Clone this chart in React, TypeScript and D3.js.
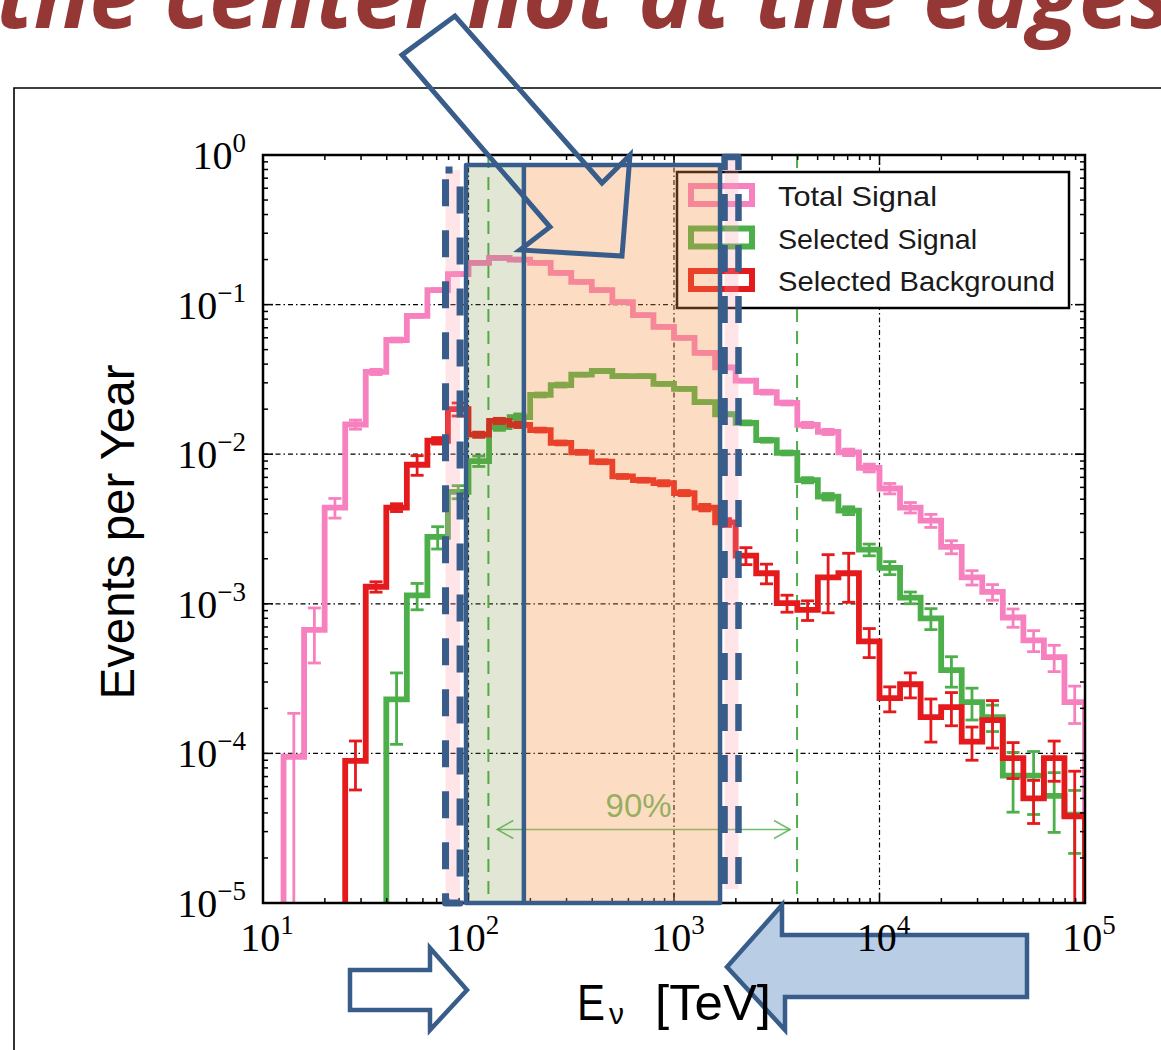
import React from 'react';
import * as d3 from 'd3';

// Histogram binning: 0.1 decade bins from 10 TeV to 100 PeV
const binEdgeExponents = d3.range(41).map((i) => 1 + i / 10);
const binEdges = binEdgeExponents.map((e) => Math.pow(10, e));

// Events per year in each energy bin
const totalSignal = [
  0, 9.5e-5, 6.7e-4, 4.4e-3, 0.0158, 0.0355, 0.058, 0.084, 0.125, 0.16,
  0.19, 0.205, 0.2, 0.19, 0.163, 0.142, 0.125, 0.104, 0.085, 0.071,
  0.06, 0.0475, 0.038, 0.031, 0.026, 0.022, 0.0157, 0.0141, 0.0103, 0.0081,
  0.0059, 0.0044, 0.0036, 0.0024, 0.0015, 0.0012, 0.00081, 0.00057, 0.00044, 0.00022,
];
const selectedSignal = [
  0, 0, 0, 0, 0, 0, 2.3e-4, 1.14e-3, 2.8e-3, 5.6e-3,
  9.0e-3, 0.0152, 0.0177, 0.0249, 0.029, 0.034, 0.036, 0.0333, 0.0333, 0.0295,
  0.0273, 0.0223, 0.0185, 0.0162, 0.0124, 0.0102, 0.0067, 0.0052, 0.0042, 0.0023,
  0.00174, 0.0011, 0.0008, 0.00036, 0.00022, 0.000175, 7.1e-5, 7.1e-5, 5.2e-5, 3.9e-5,
];
const selectedBackground = [
  0, 0, 0, 0, 8.9e-5, 1.3e-3, 4.4e-3, 8.5e-3, 0.0123, 0.02,
  0.0135, 0.0167, 0.0157, 0.0145, 0.0119, 0.0103, 0.0089, 0.0071, 0.0067, 0.0064,
  0.0055, 0.0044, 0.0035, 0.0021, 0.0016, 0.00101, 0.00091, 0.0015, 0.0016, 0.00056,
  0.000234, 0.00029, 0.000175, 0.000204, 0.00012, 0.000167, 9.3e-5, 5e-5, 9.3e-5, 3.8e-5,
];

// Relative statistical uncertainty per bin
const totalSignalErr = [
  0, 0.95, 0.4, 0.15, 0.07, 0.04, 0.03, 0.02, 0.02, 0.02,
  0.02, 0.02, 0.02, 0.02, 0.02, 0.02, 0.02, 0.02, 0.02, 0.02,
  0.02, 0.02, 0.02, 0.02, 0.03, 0.03, 0.04, 0.04, 0.05, 0.06,
  0.08, 0.08, 0.1, 0.1, 0.11, 0.12, 0.14, 0.16, 0.2, 0.28,
];
const selectedSignalErr = [
  0, 0, 0, 0, 0, 0, 0.5, 0.2, 0.17, 0.1,
  0.08, 0.05, 0.05, 0.03, 0.03, 0.02, 0.02, 0.02, 0.02, 0.02,
  0.02, 0.02, 0.02, 0.03, 0.03, 0.03, 0.04, 0.05, 0.06, 0.09,
  0.1, 0.09, 0.16, 0.23, 0.24, 0.2, 0.43, 0.45, 0.43, 0.45,
];
const selectedBackgroundErr = [
  0, 0, 0, 0, 0.36, 0.08, 0.06, 0.15, 0.05, 0.1,
  0.04, 0.04, 0.04, 0.03, 0.03, 0.03, 0.03, 0.03, 0.03, 0.04,
  0.04, 0.05, 0.06, 0.13, 0.15, 0.13, 0.15, 0.42, 0.36, 0.22,
  0.19, 0.19, 0.32, 0.25, 0.25, 0.35, 0.27, 0.32, 0.3, 1.0,
];

const seriesNames = ['Total Signal', 'Selected Signal', 'Selected Background'];
const seriesColors = ['#f781bf', '#4daf4a', '#e41a1c'];
const legendTextWidths = [159, 199, 277];

const xTickExponents = [1, 2, 3, 4, 5];
const yTickExponents = [0, -1, -2, -3, -4, -5];

// 90% containment interval of the selected signal (TeV)
const containment = [125, 3970];
const containmentLabel = '90%';
const arrowSpan = [138, 3670];
const arrowLevel = 3.1e-5;

// Highlighted energy windows (TeV) and their vertical reach
const selectedWindowLow = [97.3, 186];
const selectedWindowHigh = [186, 1675];
const windowTop = 0.857;
const leftEdgeBand = [77.3, 91, 0.794, 1e-5];
const rightEdgeBand = [1762, 2060, 0.97, 1.24e-5];

const titleText = 'the center not at the edges';
const xLabelMain = 'E';
const xLabelSub = 'ν';
const xLabelUnit = '[TeV]';
const yLabel = 'Events per Year';

const BLUE = '#385D8A';

export default function App() {
  const left = 263, right = 1085, top = 155, bottom = 903;
  const x = d3.scaleLog().domain([10, 1e5]).range([left, right]);
  const y = d3.scaleLog().domain([1e-5, 1]).range([bottom, top]);
  const floorY = bottom + 40;
  const yv = (v: number) => (v > 0 ? y(v) : floorY);

  const line = d3
    .line<[number, number]>()
    .x((d) => d[0])
    .y((d) => d[1])
    .curve(d3.curveStepAfter);

  const stepPath = (vals: number[]) => {
    const first = vals.findIndex((v) => v > 0);
    const pts: [number, number][] = [[x(binEdges[first]), floorY]];
    for (let i = first; i < vals.length; i++) pts.push([x(binEdges[i]), yv(vals[i])]);
    pts.push([x(binEdges[vals.length]), yv(vals[vals.length - 1])]);
    pts.push([x(binEdges[vals.length]), floorY]);
    return line(pts) || '';
  };

  const errorBars = (vals: number[], errs: number[], color: string, key: string) =>
    vals.map((v, i) => {
      if (!(v > 0)) return null;
      const cx = x(Math.sqrt(binEdges[i] * binEdges[i + 1]));
      const hi = y(v * (1 + errs[i]));
      const lo = v * (1 - errs[i]) > 0 ? y(v * (1 - errs[i])) : floorY;
      return (
        <g key={key + i} stroke={color} strokeWidth={2.8}>
          <line x1={cx} x2={cx} y1={hi} y2={lo} />
          <line x1={cx - 6.5} x2={cx + 6.5} y1={hi} y2={hi} />
          <line x1={cx - 6.5} x2={cx + 6.5} y1={lo} y2={lo} />
        </g>
      );
    });

  const series = [
    { vals: totalSignal, errs: totalSignalErr },
    { vals: selectedSignal, errs: selectedSignalErr },
    { vals: selectedBackground, errs: selectedBackgroundErr },
  ];

  // minor ticks
  const xMinor: number[] = [];
  for (let d = 1; d < 5; d++) for (let m = 2; m <= 9; m++) xMinor.push(m * Math.pow(10, d));
  const yMinor: number[] = [];
  for (let d = -5; d < 0; d++) for (let m = 2; m <= 9; m++) yMinor.push(m * Math.pow(10, d));

  const gridDash = '5,3,1.5,3';

  const box = (x0: number, x1: number, y0: number, y1: number) => ({
    x: x(x0),
    y: y(y0),
    w: x(x1) - x(x0),
    h: y(y1) - y(y0),
  });
  const greenBox = box(selectedWindowLow[0], selectedWindowLow[1], windowTop, 1e-5);
  const peachBox = box(selectedWindowHigh[0], selectedWindowHigh[1], windowTop, 1e-5);
  const lBand = box(leftEdgeBand[0], leftEdgeBand[1], leftEdgeBand[2], leftEdgeBand[3]);
  const rBand = box(rightEdgeBand[0], rightEdgeBand[1], rightEdgeBand[2], rightEdgeBand[3]);

  const pts = (p: number[][]) => p.map((q) => q.join(',')).join(' ');

  const arrowY = y(arrowLevel);
  const ax0 = x(arrowSpan[0]);
  const ax1 = x(arrowSpan[1]);

  return (
    <svg
      width={1161}
      height={1050}
      viewBox="0 0 1161 1050"
      style={{ position: 'absolute', left: 0, top: 0, background: '#fff' }}
    >
      <defs>
        <clipPath id="plotArea">
          <rect x={left} y={top} width={right - left} height={bottom - top} />
        </clipPath>
      </defs>
      <rect x={0} y={0} width={1161} height={1050} fill="#fff" />

      {/* figure frame */}
      <path d="M14,1052 V88 H1163" fill="none" stroke="#000" strokeWidth={1.6} />

      {/* grid */}
      <g stroke="#000" strokeWidth={1.2} strokeDasharray={gridDash}>
        {[2, 3, 4].map((e) => (
          <line key={'gx' + e} x1={x(Math.pow(10, e))} x2={x(Math.pow(10, e))} y1={top} y2={bottom} />
        ))}
        {[-1, -2, -3, -4].map((e) => (
          <line key={'gy' + e} x1={left} x2={right} y1={y(Math.pow(10, e))} y2={y(Math.pow(10, e))} />
        ))}
      </g>

      {/* 90% interval */}
      <g stroke="#4daf4a" strokeWidth={2} strokeDasharray="13,9">
        {containment.map((c) => (
          <line key={'c' + c} x1={x(c)} x2={x(c)} y1={top} y2={bottom} />
        ))}
      </g>
      <g stroke="#4daf4a" strokeOpacity={0.8} strokeWidth={1.6} fill="none">
        <line x1={ax0} x2={ax1} y1={arrowY} y2={arrowY} />
        <path d={`M${ax0 + 16},${arrowY - 9} L${ax0},${arrowY} L${ax0 + 16},${arrowY + 9}`} />
        <path d={`M${ax1 - 16},${arrowY - 9} L${ax1},${arrowY} L${ax1 - 16},${arrowY + 9}`} />
      </g>
      <text
        x={x(Math.sqrt(arrowSpan[0] * arrowSpan[1])) - 5}
        y={arrowY - 12}
        textAnchor="middle"
        fontFamily="Liberation Sans, Arial, sans-serif"
        fontSize={33}
        fill="#4daf4a"
        fillOpacity={0.85}
      >
        {containmentLabel}
      </text>

      {/* histograms */}
      <g clipPath="url(#plotArea)">
        {series.map((s, k) => (
          <g key={'s' + k}>
            <path d={stepPath(s.vals)} fill="none" stroke={seriesColors[k]} strokeWidth={5.8} strokeLinejoin="miter" />
            {errorBars(s.vals, s.errs, seriesColors[k], 'e' + k)}
          </g>
        ))}
      </g>

      {/* axes frame and ticks */}
      <rect x={left} y={top} width={right - left} height={bottom - top} fill="none" stroke="#000" strokeWidth={2.5} />
      <g stroke="#000" strokeWidth={1.5}>
        {xTickExponents.map((e) => {
          const px = x(Math.pow(10, e));
          return (
            <g key={'xt' + e}>
              <line x1={px} x2={px} y1={bottom} y2={bottom - 10} />
              <line x1={px} x2={px} y1={top} y2={top + 10} />
            </g>
          );
        })}
        {xMinor.map((v) => {
          const px = x(v);
          return (
            <g key={'xm' + v}>
              <line x1={px} x2={px} y1={bottom} y2={bottom - 5} />
              <line x1={px} x2={px} y1={top} y2={top + 5} />
            </g>
          );
        })}
        {yTickExponents.map((e) => {
          const py = y(Math.pow(10, e));
          return (
            <g key={'yt' + e}>
              <line x1={left} x2={left + 10} y1={py} y2={py} />
              <line x1={right} x2={right - 10} y1={py} y2={py} />
            </g>
          );
        })}
        {yMinor.map((v) => {
          const py = y(v);
          return (
            <g key={'ym' + v}>
              <line x1={left} x2={left + 5} y1={py} y2={py} />
              <line x1={right} x2={right - 5} y1={py} y2={py} />
            </g>
          );
        })}
      </g>

      {/* legend */}
      <g>
        <rect x={677} y={172} width={392} height={136} fill="#fff" stroke="#000" strokeWidth={2.5} />
        {seriesNames.map((n, i) => (
          <g key={n}>
            <rect x={691} y={186 + i * 42.5} width={61} height={18} fill="none" stroke={seriesColors[i]} strokeWidth={6} />
            <text
              x={778}
              y={206 + i * 42.5}
              fontFamily="Liberation Sans, Arial, sans-serif"
              fontSize={28}
              textLength={legendTextWidths[i]}
              lengthAdjust="spacingAndGlyphs"
              fill="#1a1a1a"
            >
              {n}
            </text>
          </g>
        ))}
      </g>

      {/* highlighted windows */}
      <rect x={lBand.x} y={lBand.y} width={lBand.w} height={lBand.h} fill="#FF9EAE" fillOpacity={0.28} />
      <rect x={rBand.x} y={rBand.y} width={rBand.w} height={rBand.h} fill="#FF9EAE" fillOpacity={0.28} />
      <rect x={greenBox.x} y={greenBox.y} width={greenBox.w} height={greenBox.h} fill="#76923C" fillOpacity={0.22} />
      <rect x={peachBox.x} y={peachBox.y} width={peachBox.w} height={peachBox.h} fill="#F79646" fillOpacity={0.32} />
      <rect
        x={lBand.x}
        y={lBand.y}
        width={lBand.w}
        height={lBand.h}
        fill="none"
        stroke={BLUE}
        strokeWidth={7}
        strokeDasharray="27,24"
        strokeDashoffset={20}
        strokeLinejoin="round"
      />
      <rect
        x={rBand.x}
        y={rBand.y}
        width={rBand.w}
        height={rBand.h}
        fill="none"
        stroke={BLUE}
        strokeWidth={6.5}
        strokeDasharray="27,24"
        strokeLinejoin="round"
      />
      <rect
        x={greenBox.x}
        y={greenBox.y}
        width={peachBox.x + peachBox.w - greenBox.x}
        height={greenBox.h}
        fill="none"
        stroke={BLUE}
        strokeWidth={4.5}
        strokeLinejoin="round"
      />
      <line x1={peachBox.x} x2={peachBox.x} y1={peachBox.y} y2={peachBox.y + peachBox.h} stroke={BLUE} strokeWidth={4.5} />

      {/* callout arrows */}
      <polygon
        points={pts([[455, 16], [402, 55], [550, 227], [520, 250], [622, 256], [630, 155], [602, 183]])}
        fill="none"
        stroke={BLUE}
        strokeWidth={5}
        strokeLinejoin="miter"
      />
      <polygon
        points={pts([[350, 970], [430, 970], [430, 948], [467, 990], [430, 1030], [430, 1010], [350, 1010]])}
        fill="#fff"
        stroke={BLUE}
        strokeWidth={4.5}
      />
      <polygon
        points={pts([[1027, 935], [782, 935], [782, 905], [727, 967], [785, 1030], [785, 997], [1027, 997]])}
        fill="#B9CDE5"
        stroke={BLUE}
        strokeWidth={4.5}
      />

      {/* tick labels */}
      <g fontFamily="Liberation Serif, Times New Roman, serif" fill="#000">
        {yTickExponents.map((e) => (
          <text key={'yl' + e} x={246} y={y(Math.pow(10, e)) + 14} textAnchor="end" fontSize={40}>
            10
            <tspan dy={-17} fontSize={27}>
              {e < 0 ? '−' + Math.abs(e) : String(e)}
            </tspan>
          </text>
        ))}
        {xTickExponents.map((e) => (
          <text key={'xl' + e} x={x(Math.pow(10, e)) + 4} y={951} textAnchor="middle" fontSize={40}>
            10
            <tspan dy={-17} fontSize={27}>
              {String(e)}
            </tspan>
          </text>
        ))}
      </g>

      {/* axis labels */}
      <text
        transform="translate(134,532) rotate(-90)"
        textAnchor="middle"
        fontFamily="Liberation Sans, Arial, sans-serif"
        fontSize={48}
        textLength={335}
        lengthAdjust="spacingAndGlyphs"
        fill="#000"
      >
        {yLabel}
      </text>
      <g fontFamily="Liberation Sans, Arial, sans-serif" fill="#000">
        <text x={577} y={1020} fontSize={50} textLength={28} lengthAdjust="spacingAndGlyphs">
          {xLabelMain}
        </text>
        <text x={609} y={1024} fontSize={30}>
          {xLabelSub}
        </text>
        <text x={655} y={1020} fontSize={50} textLength={116} lengthAdjust="spacingAndGlyphs">
          {xLabelUnit}
        </text>
      </g>

      {/* slide title */}
      <text
        x={-4}
        y={28}
        fontFamily="Open Sans, sans-serif"
        fontWeight={700}
        fontStyle="italic"
        fontSize={92}
        fill="#953735"
      >
        {titleText}
      </text>
    </svg>
  );
}
